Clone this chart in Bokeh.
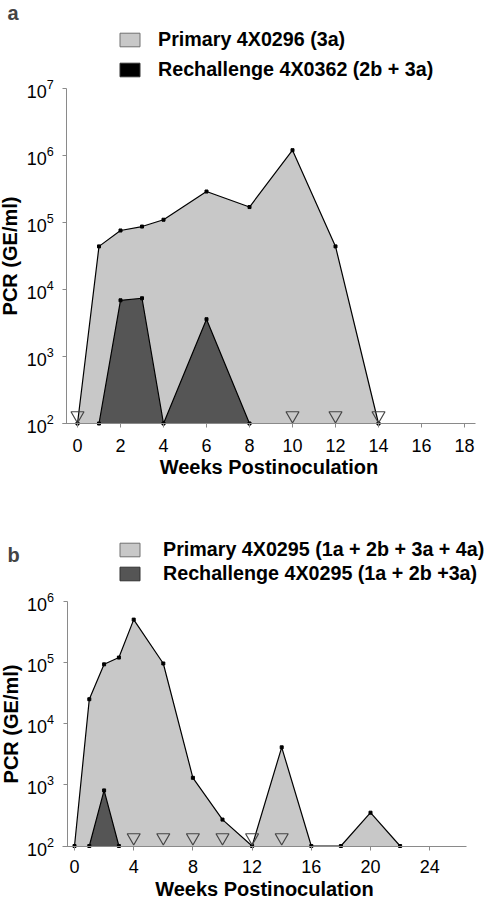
from bokeh.plotting import figure
from bokeh.models import (Range1d, FixedTicker, LogTickFormatter, Legend, LegendItem,
                          Label, ColumnDataSource)
from bokeh.layouts import column
from bokeh.embed import file_html
from bokeh.resources import INLINE

# ---------------- data: panel a ----------------
a_weeks_primary = [0, 1, 2, 3, 4, 6, 8, 10, 12, 14]
a_pcr_primary = [100, 4.4e4, 7.6e4, 8.7e4, 1.1e5, 2.9e5, 1.7e5, 1.2e6, 4.4e4, 100]
a_weeks_rechal = [1, 2, 3, 4, 6, 8]
a_pcr_rechal = [100, 6.9e3, 7.4e3, 100, 3.6e3, 100]
a_negative_weeks = [0, 10, 12, 14]
a_xticks = [0, 2, 4, 6, 8, 10, 12, 14, 16, 18]
a_yticks = [1e2, 1e3, 1e4, 1e5, 1e6, 1e7]
a_primary_label = "Primary 4X0296 (3a)"
a_rechal_label = "Rechallenge 4X0362 (2b + 3a)"

# ---------------- data: panel b ----------------
b_weeks_primary = [0, 1, 2, 3, 4, 6, 8, 10, 12, 14, 16, 18, 20, 22]
b_pcr_primary = [100, 2.5e4, 9.3e4, 1.2e5, 5.0e5, 9.6e4, 1.3e3, 2.7e2, 100, 4.1e3, 100, 100, 3.5e2, 100]
b_weeks_rechal = [1, 2, 3]
b_pcr_rechal = [100, 8.1e2, 100]
b_negative_weeks = [4, 6, 8, 10, 12, 14]
b_xticks = [0, 4, 8, 12, 16, 20, 24]
b_yticks = [1e2, 1e3, 1e4, 1e5, 1e6]
b_primary_label = "Primary 4X0295 (1a + 2b + 3a + 4a)"
b_rechal_label = "Rechallenge 4X0295 (1a + 2b +3a)"

FONT = "Liberation Sans"
LIGHT = "#c8c8c8"
DARK = "#555555"
AXIS = "#8a8a8a"
W = 487
NAN = float("nan")


def make_panel(letter, wp, vp, wr, vr, neg, xticks, yticks,
               plabel, rlabel, rswatch, H,
               x0_px, px_per_week, base_px, px_per_dec, xbounds,
               tick_standoff, tri_px, leg_bottom, leg_spacing, leg_standoff, letter_base):
    # layout constants: canvas pixel geometry -> data ranges
    xr = (-x0_px / px_per_week, (W - x0_px) / px_per_week)
    ylo = 10 ** (2 - (H - base_px) / px_per_dec)
    yhi = 10 ** (2 + base_px / px_per_dec)
    ymin, ymax = yticks[0], yticks[-1]
    p = figure(width=W, height=H, y_axis_type="log",
               x_range=Range1d(*xr), y_range=Range1d(ylo, yhi),
               output_backend="svg", toolbar_location=None,
               min_border=0)
    p.outline_line_color = None
    p.xgrid.visible = False
    p.ygrid.visible = False
    p.background_fill_color = "white"

    base_p = [ymin] * len(wp)
    base_r = [ymin] * len(wr)
    p.varea(x=wp, y1=base_p, y2=vp, fill_color=LIGHT)
    p.line(x=wp, y=vp, line_color="black", line_width=1.2)
    p.scatter(x=wp, y=vp, marker="square", size=3, color="black")
    p.varea(x=wr, y1=base_r, y2=vr, fill_color=DARK)
    p.line(x=wr, y=vr, line_color="black", line_width=1.2)
    p.scatter(x=wr, y=vr, marker="square", size=3, color="black")
    tri_y = ymin * 10 ** (tri_px / px_per_dec)
    p.scatter(x=neg, y=[tri_y] * len(neg), marker="inverted_triangle", size=13,
              line_color="#444444", line_width=1.2, fill_alpha=0)

    # legend swatches (renderers with no drawable geometry, used only by the legend)
    def swatch(color, outline):
        src = ColumnDataSource(dict(left=[NAN], right=[NAN], top=[NAN], bottom=[NAN]))
        return p.quad(source=src, left="left", right="right", top="top", bottom="bottom",
                      fill_color=color, line_color=outline, line_width=1)
    r1 = swatch(LIGHT, "#707070")
    r2 = swatch(rswatch, "#333333")
    leg = Legend(items=[LegendItem(label=plabel, renderers=[r1]),
                        LegendItem(label=rlabel, renderers=[r2])],
                 location=(117, H - leg_bottom), padding=0, margin=0,
                 border_line_color=None, background_fill_alpha=0,
                 glyph_width=25, glyph_height=17, label_standoff=leg_standoff,
                 spacing=leg_spacing, label_text_font=FONT, label_text_font_style="bold",
                 label_text_font_size="19.7px", label_text_color="black")
    p.add_layout(leg)

    p.add_layout(Label(x=7, y=H - letter_base, x_units="screen", y_units="screen",
                       text=letter, text_font=FONT, text_font_style="bold",
                       text_font_size="20px", text_baseline="alphabetic"))

    p.xaxis.ticker = FixedTicker(ticks=xticks, minor_ticks=[])
    p.yaxis.ticker = FixedTicker(ticks=yticks, minor_ticks=[])
    p.yaxis.formatter = LogTickFormatter()
    p.xaxis.fixed_location = ymin
    p.xaxis.bounds = xbounds
    p.yaxis.fixed_location = -0.5
    p.yaxis.bounds = (ymin, ymax)
    for ax in (p.xaxis, p.yaxis):
        ax.axis_line_color = AXIS
        ax.major_tick_line_color = AXIS
        ax.major_tick_out = 4
        ax.major_tick_in = 0
        ax.minor_tick_line_color = None
        ax.major_label_text_font = FONT
        ax.major_label_text_font_size = "18px"
        ax.major_label_text_color = "black"
        ax.axis_label_text_font = FONT
        ax.axis_label_text_font_style = "bold"
        ax.axis_label_text_font_size = "20px"
        ax.axis_label_text_color = "black"
    p.xaxis.axis_label = "Weeks Postinoculation"
    p.xaxis.major_label_standoff = tick_standoff
    p.xaxis.axis_label_standoff = 1
    p.yaxis.axis_label = "PCR (GE/ml)"
    p.yaxis.major_label_standoff = 9
    p.yaxis.axis_label_standoff = 2
    return p


pa = make_panel("a", a_weeks_primary, a_pcr_primary, a_weeks_rechal, a_pcr_rechal,
                a_negative_weeks, a_xticks, a_yticks,
                a_primary_label, a_rechal_label, "#000000", H=500,
                x0_px=77, px_per_week=21.5, base_px=423, px_per_dec=67, xbounds=(-0.7, 18.5),
                tick_standoff=11, tri_px=8, leg_bottom=81, leg_spacing=7, leg_standoff=16,
                letter_base=12)
pb = make_panel("b", b_weeks_primary, b_pcr_primary, b_weeks_rechal, b_pcr_rechal,
                b_negative_weeks, b_xticks, b_yticks,
                b_primary_label, b_rechal_label, DARK, H=402,
                x0_px=74, px_per_week=14.8, base_px=345.5, px_per_dec=61.2, xbounds=(-0.8, 26.5),
                tick_standoff=10, tri_px=8.5, leg_bottom=85, leg_spacing=1, leg_standoff=21,
                letter_base=54)

layout = column(pa, pb, spacing=0)
open("out.html", "w").write(file_html(layout, INLINE))
